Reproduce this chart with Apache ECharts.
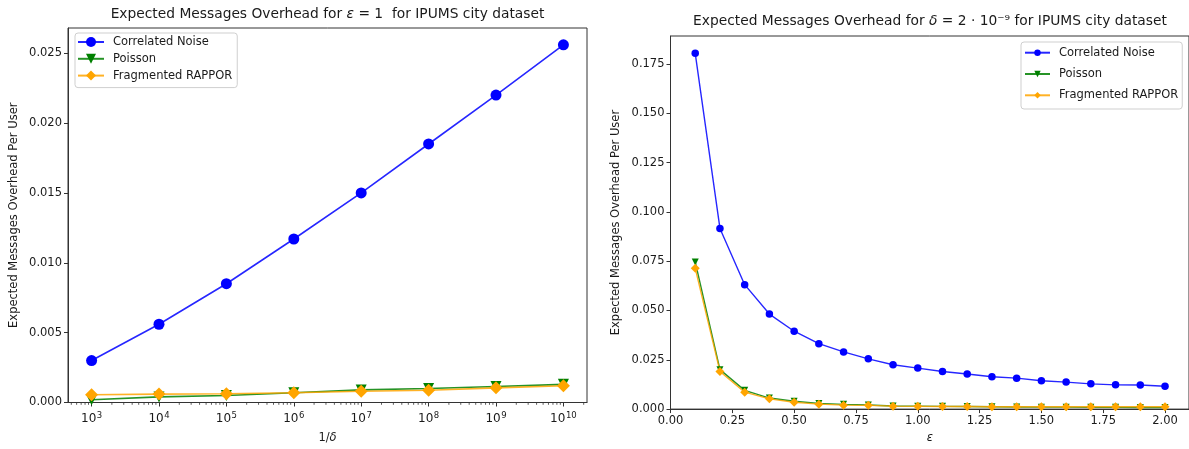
<!DOCTYPE html>
<html><head><meta charset="utf-8">
<script src="https://cdn.jsdelivr.net/npm/echarts@6/dist/echarts.min.js"></script>
<style>html,body{margin:0;padding:0;background:#fff}#c{width:1189px;height:449px}</style>
</head><body><div id="c"></div>
<script>
// ---- Left chart data (epsilon = 1) ----
const invDelta = [1e3, 1e4, 1e5, 1e6, 1e7, 1e8, 1e9, 1e10];
const corrLeft = [0.0030, 0.0056, 0.0085, 0.0117, 0.0150, 0.0185, 0.0220, 0.0256];
const poisLeft = [0.0002, 0.0004, 0.0005, 0.0007, 0.0009, 0.0010, 0.00115, 0.0013];
const rapLeft  = [0.00055, 0.0006, 0.00063, 0.0007, 0.0008, 0.00088, 0.00105, 0.0012];

// ---- Right chart data (delta = 2e-9) ----
const epsilons = [0.1, 0.2, 0.3, 0.4, 0.5, 0.6, 0.7, 0.8, 0.9, 1.0, 1.1, 1.2, 1.3, 1.4, 1.5, 1.6, 1.7, 1.8, 1.9, 2.0];
const corrRight = [0.1804, 0.0916, 0.0631, 0.0482, 0.0395, 0.0332, 0.0290, 0.0255, 0.0225, 0.0208, 0.0191, 0.0178, 0.0164, 0.0157, 0.0144, 0.0137, 0.0128, 0.0123, 0.0122, 0.0116];
const poisRight = [0.0746, 0.0200, 0.0095, 0.0056, 0.0040, 0.0029, 0.0024, 0.0021, 0.0016, 0.0015, 0.0014, 0.0013, 0.0012, 0.0011, 0.0010, 0.0010, 0.0009, 0.0009, 0.0008, 0.0008];
const rapRight  = [0.0714, 0.0191, 0.0086, 0.0052, 0.0035, 0.0025, 0.0020, 0.0019, 0.0015, 0.0014, 0.0013, 0.0013, 0.0012, 0.0012, 0.0012, 0.0012, 0.0012, 0.0012, 0.0012, 0.0012];

// ---- Tick settings ----
const leftLogDecades = [2, 3, 4, 5, 6, 7, 8, 9, 10];
const minorMultipliers = [2, 3, 4, 5, 6, 7, 8, 9];
const seriesNames = ['Correlated Noise', 'Poisson', 'Fragmented RAPPOR'];

const FONT = 'DejaVu Sans';
const TXT = '#1a1a1a';
const AX = '#333';

const xMinL = Math.pow(10, 2.65), xMaxL = Math.pow(10, 10.35);
const minorVals = [];
leftLogDecades.forEach(e => minorMultipliers.forEach(k => {
  const v = k * Math.pow(10, e);
  if (v > xMinL && v < xMaxL) minorVals.push([v, 0]);
}));

function zip(xs, ys) { return xs.map((x, i) => [x, ys[i]]); }

const axisCommon = {
  axisLine: { show: true, lineStyle: { color: AX, width: 1 } },
  axisTick: { show: true, inside: false, length: 4, lineStyle: { color: AX, width: 1 } },
  splitLine: { show: false },
  nameTextStyle: { fontFamily: FONT, fontSize: 11.5, color: TXT,
    rich: { i: { fontFamily: FONT, fontSize: 11.5, fontStyle: 'italic', color: TXT } } }
};
const labelCommon = { fontFamily: FONT, fontSize: 11.5, color: TXT };

function lineSeries(name, xi, data, color, symbol, size, rotate, lw) {
  return {
    name, type: 'line', xAxisIndex: xi, yAxisIndex: xi, data,
    symbol, symbolSize: size, symbolRotate: rotate, showAllSymbol: true,
    lineStyle: { color, width: lw, opacity: 0.85 },
    itemStyle: { color, borderColor: color, borderWidth: 0 },
    emphasis: { disabled: true }, animation: false, z: 3
  };
}

const chart = echarts.init(document.getElementById('c'), null, { renderer: 'canvas' });
chart.setOption({
  animation: false,
  backgroundColor: '#fff',
  title: [
    { text: 'Expected Messages Overhead for {i|ε} = 1  for IPUMS city dataset',
      left: 327.5, top: 7, textAlign: 'center', padding: 0,
      textStyle: { fontFamily: FONT, fontSize: 13.8, fontWeight: 'normal', color: TXT,
        rich: { i: { fontFamily: FONT, fontSize: 13.8, fontStyle: 'italic', color: TXT } } } },
    { text: 'Expected Messages Overhead for {i|δ} = 2 · 10⁻⁹ for IPUMS city dataset',
      left: 930, top: 14, textAlign: 'center', padding: 0,
      textStyle: { fontFamily: FONT, fontSize: 13.8, fontWeight: 'normal', color: TXT,
        rich: { i: { fontFamily: FONT, fontSize: 13.8, fontStyle: 'italic', color: TXT } } } }
  ],
  legend: [
    { data: seriesNames, orient: 'vertical', left: 75, top: 33, padding: [3, 5, 6, 2],
      itemWidth: 26, itemHeight: 12.5, itemGap: 4.8,
      backgroundColor: '#fff', borderColor: '#cfcfcf', borderWidth: 1, borderRadius: 3,
      textStyle: { fontFamily: FONT, fontSize: 11.5, color: TXT, padding: [0, 0, 0, 4] },
      selectedMode: false },
    { data: seriesNames, orient: 'vertical', left: 1021, top: 42, padding: [4.7, 4, 7.7, 3],
      itemWidth: 25, itemHeight: 8, itemGap: 9.3,
      backgroundColor: '#fff', borderColor: '#cfcfcf', borderWidth: 1, borderRadius: 3,
      textStyle: { fontFamily: FONT, fontSize: 11.5, color: TXT, padding: [0, 0, 0, 4] },
      selectedMode: false }
  ],
  grid: [
    { left: 68, top: 28, width: 519, height: 378, show: true, borderColor: AX, borderWidth: 1, containLabel: false },
    { left: 670.5, top: 36, width: 519.5, height: 378, show: true, borderColor: AX, borderWidth: 1, containLabel: false }
  ],
  xAxis: [
    Object.assign({}, axisCommon, {
      type: 'log', logBase: 10, gridIndex: 0, min: xMinL, max: xMaxL,
      name: '1/{i|δ}', nameLocation: 'middle', nameGap: 29.5,
      axisLabel: Object.assign({}, labelCommon, {
        margin: 8.5, showMinLabel: false, showMaxLabel: false,
        formatter: v => { const e = Math.log10(v); const r = Math.round(e); return Math.abs(e - r) > 1e-6 ? '' : '{b|10}{s|' + r + '}'; },
        rich: {
          b: { fontFamily: FONT, fontSize: 12, color: TXT },
          s: { fontFamily: FONT, fontSize: 8.5, color: TXT, padding: [0, 0, 7, 0.5] }
        }
      })
    }),
    Object.assign({}, axisCommon, {
      type: 'value', gridIndex: 1, min: 0, max: 2.097, interval: 0.25,
      name: '{i|ε}', nameLocation: 'middle', nameGap: 21,
      axisLabel: Object.assign({}, labelCommon, { margin: 6, showMaxLabel: false, formatter: v => v.toFixed(2) })
    })
  ],
  yAxis: [
    Object.assign({}, axisCommon, {
      type: 'value', gridIndex: 0, min: 0, max: 0.0268, interval: 0.005,
      name: 'Expected Messages Overhead Per User', nameLocation: 'middle', nameGap: 48, nameRotate: 90,
      axisLabel: Object.assign({}, labelCommon, { margin: 6, showMaxLabel: false, formatter: v => v.toFixed(3) })
    }),
    Object.assign({}, axisCommon, {
      type: 'value', gridIndex: 1, min: 0, max: 0.1892, interval: 0.025,
      name: 'Expected Messages Overhead Per User', nameLocation: 'middle', nameGap: 48.7, nameRotate: 90,
      axisLabel: Object.assign({}, labelCommon, { margin: 6, showMaxLabel: false, formatter: v => v.toFixed(3) })
    })
  ],
  series: [
    lineSeries('Correlated Noise', 0, zip(invDelta, corrLeft), '#0000ff', 'circle', 11, 0, 1.6),
    lineSeries('Poisson', 0, zip(invDelta, poisLeft), '#008000', 'triangle', 11, 180, 1.6),
    lineSeries('Fragmented RAPPOR', 0, zip(invDelta, rapLeft), '#ffa500', 'diamond', 13, 0, 1.6),
    lineSeries('Correlated Noise', 1, zip(epsilons, corrRight), '#0000ff', 'circle', 7.5, 0, 1.4),
    lineSeries('Poisson', 1, zip(epsilons, poisRight), '#008000', 'triangle', 7, 180, 1.4),
    lineSeries('Fragmented RAPPOR', 1, zip(epsilons, rapRight), '#ffa500', 'diamond', 9, 0, 1.4),
    {
      type: 'custom', xAxisIndex: 0, yAxisIndex: 0, data: minorVals, clip: false, silent: true, z: 5,
      renderItem: (params, api) => {
        const p = api.coord([api.value(0), 0]);
        return { type: 'line', shape: { x1: p[0], y1: p[1], x2: p[0], y2: p[1] + 2.3 },
          style: { stroke: AX, lineWidth: 0.8 } };
      }
    }
  ]
});
</script>
</body></html>
